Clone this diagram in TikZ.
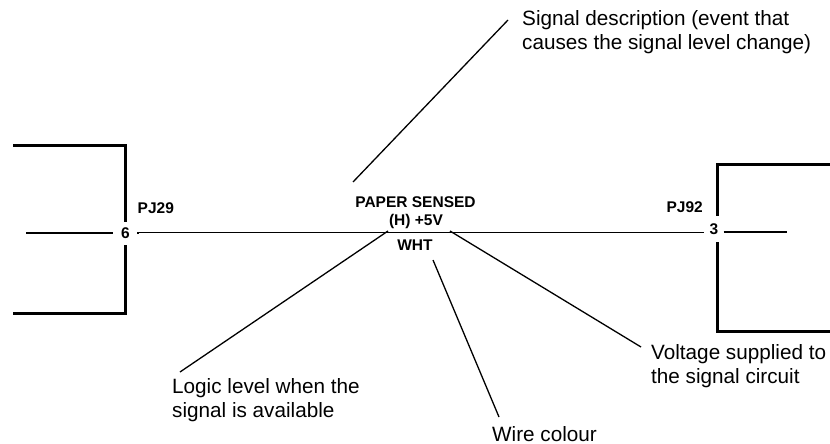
\documentclass[tikz,border=0pt]{standalone}
\usepackage{fontspec}
\setmainfont{Liberation Sans}
\begin{document}
\begin{tikzpicture}[x=1pt,y=-1pt,
  boxline/.style={line width=3pt},
  wire/.style={line width=1.5pt},
  leader/.style={line width=1.3pt},
  lbl/.style={font=\fontsize{15.5}{18}\selectfont\bfseries, inner sep=0pt},
  pin/.style={font=\fontsize{15.5}{18}\selectfont\bfseries, inner sep=0pt},
  note/.style={font=\fontsize{20.7}{24}\selectfont, inner sep=0pt, align=left}]
\useasboundingbox (0,0) rectangle (830,444);

% pins
\node[pin, minimum width=25pt, minimum height=23pt] (p6) at (125.5,233.5) {6};
\node[pin, minimum width=19pt, minimum height=26pt] (p3) at (714,229) {3};

% connector boxes
\draw[boxline] (13,145) -- (125.5,145) -- (p6.north -| 125.5,0);
\draw[boxline] (p6.south -| 125.5,0) -- (125.5,313) -- (13,313);
\draw[boxline] (830,164) -- (717,164) -- (717,216);
\draw[boxline] (717,242) -- (717,331) -- (830,331);

% wire
\coordinate (wl) at (26,233);
\coordinate (wr) at (787,232);
\draw[wire] (wl) -- (wl -| p6.west);
\draw[wire] (p6.east) -- (p6.east |- 0,232.5) -- (p3.west |- 0,232.5);
\draw[wire] (p3.east |- wr) -- (wr);

% labels
\node[lbl, anchor=base west] (pj29) at (137.5,213) {PJ29};
\node[lbl, anchor=base east] (pj92) at (703,212) {PJ92};
\node[lbl, anchor=base] (desc) at (415.5,207) {PAPER SENSED};
\node[lbl, anchor=base] (lvl) at (416,225) {(H) +5V};
\node[lbl, anchor=base] (col) at (415,250) {WHT};

% notes (base = baseline of the last line)
\node[note, anchor=base west] (nsig) at (522,49) {Signal description (event that\\causes the signal level change)};
\node[note, anchor=base west] (nlog) at (172,417) {Logic level when the\\signal is available};
\node[note, anchor=base west] (nvol) at (651,383) {Voltage supplied to\\the signal circuit};
\node[note, anchor=base west] (ncol) at (492,441) {Wire colour};

% leader end points
\coordinate (sigA) at (353,182);
\coordinate (sigB) at (508,20);
\coordinate (logA) at (388,231);
\coordinate (logB) at (180,372);
\coordinate (volA) at (450,231);
\coordinate (volB) at (641,347);
\coordinate (colA) at (433,260);
\coordinate (colB) at (499,417);

\draw[leader] (sigA) -- (sigB);
\draw[leader] (logA) -- (logB);
\draw[leader] (volA) -- (volB);
\draw[leader] (colA) -- (colB);
\end{tikzpicture}
\end{document}
